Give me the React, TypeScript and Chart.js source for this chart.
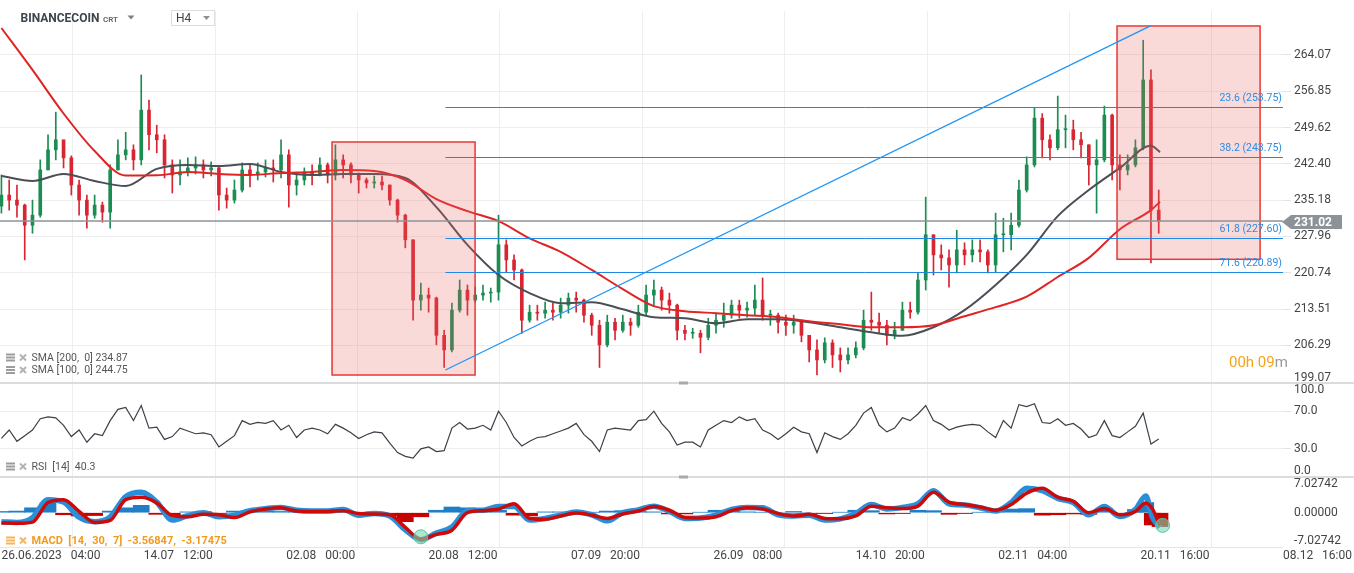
import React, { useEffect, useRef } from 'react';
import { Chart, registerables } from 'chart.js';

Chart.register(...registerables);

// ---------------- data ----------------
// candles: one candle every STEP bars of H4 data (x = bar index)
const STEP = 6;
const firstOpen = 234.0;
const closes = [
  236.2, 235.2, 234.2, 230.2, 232.2, 241.2, 245.2, 247.2, 243.6, 238.2,
  235.2, 232.2, 234.2, 232.8, 241.2, 244.2, 245.2, 243.2, 253.1, 248.2,
  247.2, 242.2, 240.2, 240.8, 241.6, 242.2, 241.2, 241.6, 236.2, 235.2,
  237.2, 241.2, 240.2, 240.8, 241.6, 241.2, 244.2, 238.2, 239.2, 240.8,
  240.2, 242.2, 240.2, 243.2, 242.2, 240.2, 239.2, 238.6, 238.8, 238.2,
  235.2, 232.2, 227.3, 215.3, 216.3, 215.7, 208.3, 205.4, 213.3, 217.3,
  215.3, 216.3, 216.7, 216.9, 226.3, 223.3, 221.3, 211.3, 212.9, 212.7,
  213.3, 212.9, 214.3, 215.7, 215.3, 212.3, 210.3, 206.4, 210.9, 209.3,
  210.9, 210.3, 212.9, 216.3, 217.3, 215.3, 214.3, 209.3, 208.7, 208.7,
  207.9, 210.3, 211.3, 212.3, 214.3, 213.3, 213.7, 215.3, 212.3, 212.3,
  210.9, 210.3, 210.9, 208.3, 205.4, 203.4, 206.8, 204.4, 203.4, 204.4,
  205.8, 211.3, 210.9, 210.3, 208.3, 209.3, 213.3, 212.9, 219.3, 228.3,
  224.3, 223.7, 222.3, 225.3, 224.3, 225.3, 224.9, 222.3, 228.3, 228.3,
  230.2, 237.2, 242.2, 251.5, 247.2, 245.6, 249.2, 249.2, 247.2, 246.2,
  242.2, 243.2, 252.1, 242.2, 241.2, 242.2, 245.6, 259.1, 233.2, 231.02,
];
const highs = [
  240.2, 239.2, 238.2, 234.4, 235.2, 243.2, 248.2, 252.7, 246.5, 244.0,
  239.2, 236.2, 236.2, 234.8, 242.2, 247.2, 248.7, 246.2, 260.1, 255.1,
  250.1, 248.2, 243.2, 243.2, 243.6, 243.8, 243.2, 242.8, 241.8, 237.6,
  239.2, 242.6, 242.2, 242.6, 243.2, 243.2, 247.2, 245.2, 240.6, 241.6,
  242.2, 243.6, 242.6, 246.2, 244.2, 242.6, 240.6, 239.6, 240.0, 240.0,
  238.2, 235.4, 232.4, 227.3, 218.7, 217.7, 215.9, 209.3, 214.7, 219.3,
  218.3, 217.9, 218.3, 217.7, 232.2, 227.3, 224.3, 221.5, 214.3, 214.3,
  214.9, 214.7, 215.7, 216.7, 216.9, 215.5, 212.7, 211.3, 212.3, 211.7,
  212.3, 211.7, 214.3, 218.3, 219.3, 217.9, 216.7, 214.5, 210.3, 209.7,
  209.3, 211.7, 212.7, 214.7, 215.3, 215.3, 214.9, 218.3, 219.7, 213.3,
  212.7, 212.3, 212.3, 211.3, 208.3, 207.4, 207.8, 207.4, 205.8, 205.8,
  207.0, 213.3, 216.9, 212.7, 211.3, 210.9, 214.9, 214.9, 220.7, 235.8,
  228.3, 226.3, 225.3, 229.2, 226.7, 227.3, 227.3, 225.3, 232.6, 231.6,
  232.6, 239.2, 243.8, 253.5, 252.4, 248.2, 255.9, 252.1, 251.1, 248.7,
  246.2, 247.2, 253.9, 252.3, 244.2, 244.2, 247.2, 267.0, 261.1, 237.2,
];
const lows = [
  232.6, 233.2, 231.8, 223.3, 228.6, 231.8, 241.2, 243.2, 241.6, 236.2,
  232.2, 229.6, 231.6, 230.8, 229.6, 241.2, 243.2, 241.2, 242.2, 245.2,
  244.6, 239.6, 236.6, 238.2, 240.0, 240.4, 239.6, 240.0, 233.2, 233.6,
  234.6, 236.8, 237.8, 239.2, 239.8, 238.8, 239.6, 233.8, 236.2, 238.2,
  238.2, 240.0, 238.6, 239.2, 239.6, 238.6, 236.6, 237.6, 237.6, 237.2,
  234.2, 230.8, 225.7, 211.3, 213.3, 212.9, 206.4, 201.9, 205.0, 212.9,
  212.3, 214.9, 215.3, 214.9, 215.3, 220.9, 219.3, 208.7, 210.9, 211.3,
  211.7, 211.3, 211.7, 212.7, 212.9, 210.9, 208.3, 201.9, 206.0, 207.4,
  208.9, 208.3, 209.9, 212.3, 214.3, 213.3, 212.7, 207.4, 207.4, 207.7,
  204.8, 207.4, 208.7, 209.9, 211.7, 211.7, 211.9, 212.3, 211.3, 210.3,
  208.7, 208.3, 208.7, 207.0, 203.0, 200.4, 202.8, 201.9, 201.0, 202.6,
  203.8, 205.4, 209.3, 208.7, 206.4, 207.6, 209.3, 211.7, 212.5, 217.3,
  220.3, 221.3, 217.9, 220.7, 222.3, 222.9, 222.9, 220.7, 220.9, 224.9,
  225.3, 229.8, 236.8, 241.8, 243.6, 243.2, 245.2, 245.6, 245.2, 243.6,
  238.2, 232.6, 242.8, 239.2, 237.2, 240.2, 241.8, 245.2, 222.7, 228.6,
];
const rsiValues = [
  41, 50, 38, 44, 50, 62, 64, 63, 55, 43,
  50, 37, 46, 44, 60, 72, 74, 60, 76, 52,
  53, 40, 43, 52, 49, 46, 47, 45, 32, 38,
  44, 60, 56, 58, 57, 60, 50, 55, 42, 50,
  52, 50, 46, 56, 52, 47, 41, 45, 48, 47,
  36, 26, 22, 20, 30, 32, 27, 28, 52, 58,
  51, 52, 55, 50, 70, 58, 42, 33, 38, 42,
  43, 46, 49, 52, 57, 45, 38, 27, 50, 52,
  51, 50, 60, 61, 70, 57, 48, 34, 37, 37,
  32, 50, 55, 60, 58, 64, 60, 62, 50, 46,
  40, 46, 53, 48, 46, 26, 47, 43, 40, 46,
  55, 68, 74, 55, 48, 52, 63, 60, 67, 76,
  60, 56, 50, 53, 55, 56, 55, 48, 42, 60,
  52, 77, 75, 78, 58, 57, 62, 55, 57, 51,
  42, 45, 60, 44, 42, 48, 54, 68, 35, 40.3,
];
// moving averages, one point every 24 bars, last point = last bar
const smaIdx = [...Array.from({ length: 38 }, (_, j) => j * 24), 895];
const sma200 = [
  269.44, 261.09, 252.43, 244.97, 240.09, 240.13, 240.8, 240.4, 240.2, 240.6,
  240.8, 241.2, 241.0, 239.2, 235.4, 233.0, 231.0, 227.6, 224.9, 221.3,
  217.5, 214.1, 213.1, 212.7, 212.3, 211.9, 211.1, 210.5, 209.9, 209.9,
  210.3, 212.1, 213.9, 216.0, 219.9, 223.7, 229.4, 233.2, 234.87,
];
const sma100 = [
  240.0, 239.0, 240.4, 239.0, 238.0, 241.4, 242.2, 242.0, 242.4, 240.8,
  240.2, 240.4, 240.4, 239.6, 233.8, 226.3, 220.3, 216.7, 214.7, 214.9,
  213.5, 211.9, 211.7, 210.7, 211.5, 211.5, 210.9, 209.9, 208.9, 208.2,
  209.9, 213.3, 218.3, 224.3, 232.0, 237.2, 241.6, 246.0, 244.75,
];
// MACD
const macdIdx = [...Array.from({ length: 74 }, (_, m) => m * 12), 884, 889, 895];
const macdLine = [
  -2.2, -2.4, -1.2, 3.2, 2.6, -1.1, -2.2, -1.0, 3.9, 5.0,
  2.6, -1.8, -0.7, 0.0, -1.0, -0.6, 0.5, 1.0, 1.3, 0.6,
  0.4, 0.4, 0.8, -0.6, -0.2, -0.8, -4.2, -6.6, -5.0, -3.5,
  0.5, 0.6, 1.5, 1.5, -1.8, -1.4, -0.6, 0.2, -0.5, -2.0,
  0.0, 0.7, 1.6, 0.3, -1.4, -1.3, -0.6, 0.8, 1.3, 1.2,
  -0.5, -0.8, -0.6, -1.8, -1.5, -0.2, 2.0, 0.9, 1.3, 2.2,
  5.4, 2.2, 1.9, 1.2, 0.4, 2.5, 6.0, 5.4, 3.5, 2.5,
  -0.5, 1.5, -0.9, 0.8, 4.1, -1.0, -3.56847,
];
const signalLine = [
  -2.5, -2.6, -2.3, 2.5, 3.2, 0.3, -2.4, -1.9, 3.2, 3.8,
  2.4, -0.7, -1.0, -0.4, -0.5, -1.2, 0.2, 0.9, 1.2, 0.4,
  0.3, 0.3, 0.5, -0.2, -0.3, -0.5, -3.6, -6.5, -5.3, -4.3,
  0.0, 0.5, 0.9, 2.2, -1.4, -1.6, -0.8, -0.1, -0.6, -1.4,
  -0.3, 0.4, 1.5, 0.6, -1.2, -1.3, -1.0, 0.5, 1.2, 0.9,
  -0.2, -0.8, -0.4, -1.4, -1.5, -0.8, 1.6, 1.2, 1.0, 1.6,
  5.0, 2.6, 2.0, 1.4, 0.6, 2.0, 4.8, 6.0, 3.8, 2.8,
  0.0, 1.0, -0.5, 0.3, 2.4, 1.0, -3.17475,
];
const histogram = [
  0.3, 0.4, 1.2, 2.4, -0.5, -0.8, -0.7, 0.4, 1.2, 1.8,
  -0.4, -0.5, 0.2, 0.3, -0.2, 0.4, 0.5, 0.4, 0.3, 0.4,
  0.3, 0.2, 0.4, -0.3, 0.2, -0.8, -2.2, -1.0, 0.6, 1.4,
  1.2, 0.3, 0.6, -0.6, -0.8, 0.2, 0.2, 0.3, 0.1, 0.4,
  0.5, 0.3, 0.2, -0.3, -0.3, 0.1, 0.6, 0.5, 0.2, 0.1,
  -0.2, 0.3, -0.2, -0.2, 0.1, 0.6, 0.5, -0.3, -0.2, 0.6,
  0.5, -0.4, -0.2, 0.1, 0.6, 0.9, 1.0, -0.6, -0.5, -0.3,
  -0.4, 1.1, -0.3, 0.8, 2.5, -3.0, -3.4,
];
const crossIdx = [324, 897];
const crossVal = [-5.9, -3.1];
// axes
const xTickIdx = [0, 110, 220, 330, 440, 550, 660, 770, 880, 990];
const xTickLabels = [
  '26.06.2023   04:00', '14.07   12:00', '02.08   00:00', '20.08   12:00', '07.09   20:00',
  '26.09   08:00', '14.10   20:00', '02.11   04:00', '20.11   16:00', '08.12   16:00',
];
const priceTickLabels = ['199.07', '206.29', '213.51', '220.74', '227.96', '235.18', '242.40', '249.62', '256.85', '264.07'];
const priceTickPos = [199.9, 206.29, 213.51, 220.74, 227.96, 235.18, 242.40, 249.62, 256.85, 264.07];
const rsiTickPos = [6.4, 30, 70, 92.6];
const rsiTickLabels = ['0.0', '30.0', '70.0', '100.0'];
const macdTicks = [-7.02742, 0, 7.02742];
// drawings
const fibLevels = [23.6, 38.2, 61.8, 71.6];
const fibPrices = [253.75, 243.75, 227.6, 220.89];
const fibStartIdx = 343;
const trendIdx = [343, 888];
const trendPrice = [201.4, 269.9];
const zoneStart = [255.4, 861.8];
const zoneEnd = [365.9, 972.3];
const zoneTop = [246.76, 269.84];
const zoneBottom = [200.4, 223.42];
const lastPrice = 231.02;

const UP = '#1b8c52';
const DOWN = '#d92532';
const FONT = 'Roboto';

function seg(ctx: any, x0: number, y0: number, x1: number, y1: number) {
  ctx.beginPath();
  ctx.moveTo(x0, y0);
  ctx.lineTo(x1, y1);
  ctx.stroke();
}

function legendIcons(ctx: any, y: number, color: string, xColor: string) {
  ctx.fillStyle = color;
  ctx.fillRect(6, y - 4, 9, 2);
  ctx.fillRect(6, y - 1, 9, 2);
  ctx.fillRect(6, y + 2, 9, 2);
  ctx.strokeStyle = xColor;
  ctx.lineWidth = 2;
  seg(ctx, 20, y - 3, 26, y + 3);
  seg(ctx, 26, y - 3, 20, y + 3);
}

function tri(ctx: any, x: number, y: number, color: string) {
  ctx.fillStyle = color;
  ctx.beginPath();
  ctx.moveTo(x, y);
  ctx.lineTo(x + 7, y);
  ctx.lineTo(x + 3.5, y + 4);
  ctx.closePath();
  ctx.fill();
}

const overlay = {
  id: 'overlay',
  afterDatasetsDraw(chart: any) {
    const { ctx, chartArea: ca, scales } = chart;
    const xs = scales.x;
    const ys = scales.y;
    ctx.save();
    ctx.beginPath();
    ctx.rect(ca.left, ys.top, ca.right - ca.left, ys.bottom - ys.top);
    ctx.clip();
    // zones
    for (let i = 0; i < zoneStart.length; i++) {
      const x0 = xs.getPixelForValue(zoneStart[i]);
      const x1 = xs.getPixelForValue(zoneEnd[i]);
      const y0 = ys.getPixelForValue(zoneTop[i]);
      const y1 = ys.getPixelForValue(zoneBottom[i]);
      ctx.fillStyle = 'rgba(236, 96, 96, 0.24)';
      ctx.fillRect(x0, y0, x1 - x0, y1 - y0);
      ctx.strokeStyle = '#e53935';
      ctx.lineWidth = 1.5;
      ctx.strokeRect(x0, y0, x1 - x0, y1 - y0);
    }
    // last price line
    const py = ys.getPixelForValue(lastPrice);
    ctx.strokeStyle = '#8c9398';
    ctx.lineWidth = 1.5;
    seg(ctx, ca.left, py, ca.right, py);
    // fibonacci
    ctx.font = `10.5px ${FONT}`;
    ctx.textAlign = 'right';
    ctx.textBaseline = 'middle';
    for (let i = 0; i < fibPrices.length; i++) {
      const fy = Math.round(ys.getPixelForValue(fibPrices[i])) + 0.5;
      ctx.strokeStyle = '#1e88e5';
      ctx.lineWidth = 1;
      seg(ctx, xs.getPixelForValue(fibStartIdx), fy, ca.right, fy);
      ctx.fillStyle = '#2b8de3';
      ctx.fillText(`${fibLevels[i].toFixed(1)} (${fibPrices[i].toFixed(2)})`, ca.right - 1, fy - 9);
    }
    // trend line
    ctx.strokeStyle = '#2196f3';
    ctx.lineWidth = 1.3;
    seg(
      ctx,
      xs.getPixelForValue(trendIdx[0]), ys.getPixelForValue(trendPrice[0]),
      xs.getPixelForValue(trendIdx[1]), ys.getPixelForValue(trendPrice[1]),
    );
    ctx.restore();
  },
  afterDraw(chart: any) {
    const { ctx, chartArea: ca, scales, width } = chart;
    const ys = scales.y;
    ctx.save();
    // pane separators
    for (const sc of [scales.rsi, scales.macd]) {
      ctx.fillStyle = '#dcdcdc';
      ctx.fillRect(0, sc.top - 1, width, 2);
      ctx.fillStyle = '#a9a9a9';
      ctx.fillRect(679, sc.top - 1.5, 9, 3);
    }
    ctx.fillStyle = '#e6e6e6';
    ctx.fillRect(0, ca.bottom - 1, ca.right, 1);
    // price tag
    const ty = ys.getPixelForValue(lastPrice) + 1;
    ctx.fillStyle = '#8c9398';
    ctx.beginPath();
    ctx.moveTo(1282, ty);
    ctx.lineTo(1291, ty - 7);
    ctx.lineTo(1342, ty - 7);
    ctx.lineTo(1342, ty + 7);
    ctx.lineTo(1291, ty + 7);
    ctx.closePath();
    ctx.fill();
    ctx.fillStyle = '#ffffff';
    ctx.font = `bold 12px ${FONT}`;
    ctx.textAlign = 'left';
    ctx.textBaseline = 'middle';
    ctx.fillText(lastPrice.toFixed(2), 1294, ty + 0.5);
    // title
    ctx.fillStyle = '#3b4550';
    ctx.font = `bold 12px ${FONT}`;
    ctx.fillText('BINANCECOIN', 20.5, 18.5);
    ctx.fillStyle = '#666';
    ctx.font = `600 8px ${FONT}`;
    ctx.fillText('CRT', 103, 19.5);
    tri(ctx, 127.5, 15.5, '#808080');
    ctx.fillStyle = '#ffffff';
    ctx.fillRect(171.5, 10.5, 43, 15);
    ctx.strokeStyle = '#dddddd';
    ctx.lineWidth = 1;
    ctx.strokeRect(171.5, 10.5, 43, 15);
    ctx.fillStyle = '#444';
    ctx.font = `12px ${FONT}`;
    ctx.fillText('H4', 176, 18.5);
    tri(ctx, 203, 16, '#909090');
    // legends
    ctx.font = `10.5px ${FONT}`;
    legendIcons(ctx, 357.5, '#9c9c9c', '#b3b3b3');
    legendIcons(ctx, 370, '#9c9c9c', '#b3b3b3');
    ctx.fillStyle = '#555';
    ctx.fillText(`SMA [200,  0] ${sma200[sma200.length - 1].toFixed(2)}`, 31.5, 358);
    ctx.fillText(`SMA [100,  0] ${sma100[sma100.length - 1].toFixed(2)}`, 31.5, 370.5);
    legendIcons(ctx, 466.5, '#9c9c9c', '#b3b3b3');
    ctx.fillStyle = '#555';
    ctx.fillText(`RSI  [14]  ${rsiValues[rsiValues.length - 1].toFixed(1)}`, 31.5, 467);
    legendIcons(ctx, 540.5, '#f6b55a', '#f6b55a');
    ctx.fillStyle = '#f39a1b';
    ctx.font = `bold 11px ${FONT}`;
    ctx.fillText(
      `MACD  [14,  30,  7]  ${macdLine[macdLine.length - 1].toFixed(5)},  ${signalLine[signalLine.length - 1].toFixed(5)}`,
      31.5, 541,
    );
    // countdown
    ctx.font = `15px ${FONT}`;
    ctx.fillStyle = '#f5a31a';
    ctx.fillText('00h 09', 1229, 363);
    const w = ctx.measureText('00h 09').width;
    ctx.fillStyle = '#9a9a9a';
    ctx.fillText('m', 1229 + w, 363);
    ctx.restore();
  },
};

export default function App() {
  const ref = useRef<HTMLCanvasElement>(null);
  useEffect(() => {
    document.body.style.margin = '0';
    const canvas = ref.current;
    if (!canvas) return;
    const opens = closes.map((c, i) => (i === 0 ? firstOpen : closes[i - 1]));
    const candleX = closes.map((_, i) => i * STEP);
    const candleColors = closes.map((c, i) => (c >= opens[i] ? UP : DOWN));
    const tickFont = { family: FONT, size: 12 };
    const chart = new Chart(canvas, {
      type: 'bar',
      data: {
        datasets: [
          {
            type: 'line', label: 'SMA200', yAxisID: 'y', order: 1,
            data: smaIdx.map((x, i) => ({ x, y: sma200[i] })),
            borderColor: '#e02424', borderWidth: 2, pointRadius: 0, cubicInterpolationMode: 'monotone',
          },
          {
            type: 'line', label: 'SMA100', yAxisID: 'y', order: 2,
            data: smaIdx.map((x, i) => ({ x, y: sma100[i] })),
            borderColor: '#4a4f55', borderWidth: 2, pointRadius: 0, cubicInterpolationMode: 'monotone',
          },
          {
            type: 'bar', label: 'bodies', yAxisID: 'y', order: 3, grouped: false,
            data: candleX.map((x, i) => ({ x, y: [opens[i], closes[i]] })),
            backgroundColor: candleColors, borderWidth: 0, barThickness: 3, minBarLength: 1,
          },
          {
            type: 'bar', label: 'wicks', yAxisID: 'y', order: 4, grouped: false,
            data: candleX.map((x, i) => ({ x, y: [lows[i], highs[i]] })),
            backgroundColor: candleColors, borderWidth: 0, barThickness: 1,
          },
          {
            type: 'line', label: 'RSI', yAxisID: 'rsi', order: 5,
            data: candleX.map((x, i) => ({ x, y: rsiValues[i] })),
            borderColor: '#3b4148', borderWidth: 1.2, pointRadius: 0,
          },
          {
            type: 'scatter', label: 'cross', yAxisID: 'macd', order: 0,
            data: crossIdx.map((x, i) => ({ x, y: crossVal[i] })),
            backgroundColor: 'rgba(120, 215, 175, 0.6)', borderColor: '#55c49b', borderWidth: 1, pointRadius: 7,
          },
          {
            type: 'line', label: 'signal', yAxisID: 'macd', order: 6,
            data: macdIdx.map((x, i) => ({ x, y: signalLine[i] })),
            borderColor: '#cc0a0a', borderWidth: 3.5, pointRadius: 0, cubicInterpolationMode: 'monotone',
          },
          {
            type: 'line', label: 'macd', yAxisID: 'macd', order: 7,
            data: macdIdx.map((x, i) => ({ x, y: macdLine[i] })),
            borderColor: '#2a8fd9', borderWidth: 5.5, pointRadius: 0, cubicInterpolationMode: 'monotone',
          },
          {
            type: 'bar', label: 'hist', yAxisID: 'macd', order: 8, grouped: false,
            data: macdIdx.map((x, i) => ({ x, y: histogram[i] })),
            backgroundColor: histogram.map((v) => (v >= 0 ? '#1f7ec8' : '#c80000')),
            borderWidth: 0, barThickness: 16,
          },
        ] as any,
      },
      options: {
        animation: false,
        responsive: false,
        devicePixelRatio: 1,
        events: [],
        layout: { autoPadding: false, padding: { top: 11, left: 0, right: 0, bottom: 0 } },
        plugins: { legend: { display: false }, tooltip: { enabled: false } },
        scales: {
          x: {
            type: 'linear', min: -1.1, max: 990, offset: false,
            grid: { color: '#eeeeee', drawTicks: false },
            border: { display: false },
            ticks: {
              autoSkip: false, maxRotation: 0, minRotation: 0, align: 'start', padding: 1,
              color: '#444', font: tickFont,
              callback: (_v: any, i: number) => xTickLabels[i] ?? '',
            },
            afterBuildTicks: (s: any) => { s.ticks = xTickIdx.map((v) => ({ value: v })); },
            afterFit: (s: any) => { s.height = 25; s.paddingLeft = 0; s.paddingRight = 0; },
          },
          y: {
            type: 'linear', position: 'right', stack: 'panes', stackWeight: 372, weight: 1,
            min: 198.81, max: 272.82,
            grid: {
              color: (c: any) => (c.index === 0 ? 'rgba(0,0,0,0)' : '#eeeeee'),
              tickColor: (c: any) => (c.index === 0 ? 'rgba(0,0,0,0)' : '#e4e4e4'),
              tickLength: 8,
            },
            border: { display: false },
            ticks: {
              autoSkip: false, padding: 3, color: '#444', font: tickFont,
              callback: (_v: any, i: number) => priceTickLabels[i],
            },
            afterBuildTicks: (s: any) => { s.ticks = priceTickPos.map((v) => ({ value: v })); },
            afterFit: (s: any) => { s.width = 71; s.paddingTop = 0; s.paddingBottom = 0; },
          },
          rsi: {
            type: 'linear', position: 'right', stack: 'panes', stackWeight: 94, weight: 2,
            min: 0, max: 100,
            grid: {
              color: (c: any) => (c.tick && (c.tick.value === 70 || c.tick.value === 30) ? '#eeeeee' : 'rgba(0,0,0,0)'),
              tickColor: (c: any) => (c.tick && (c.tick.value === 70 || c.tick.value === 30) ? '#e4e4e4' : 'rgba(0,0,0,0)'),
              tickLength: 8,
            },
            border: { display: false },
            ticks: {
              autoSkip: false, padding: 3, color: '#444', font: tickFont,
              callback: (_v: any, i: number) => rsiTickLabels[i],
            },
            afterBuildTicks: (s: any) => { s.ticks = rsiTickPos.map((v) => ({ value: v })); },
            afterFit: (s: any) => { s.width = 71; s.paddingTop = 0; s.paddingBottom = 0; },
          },
          macd: {
            type: 'linear', position: 'right', stack: 'panes', stackWeight: 71, weight: 3,
            min: -8.64, max: 8.74,
            grid: { color: 'rgba(0,0,0,0)', drawTicks: false },
            border: { display: false },
            ticks: {
              autoSkip: false, padding: 11, color: '#444', font: tickFont,
              callback: (v: any) => Number(v).toFixed(5),
            },
            afterBuildTicks: (s: any) => { s.ticks = macdTicks.map((v) => ({ value: v })); },
            afterFit: (s: any) => { s.width = 71; s.paddingTop = 0; s.paddingBottom = 0; },
          },
        },
      } as any,
      plugins: [overlay],
    });
    return () => chart.destroy();
  }, []);
  return (
    <div style={{ position: 'relative', width: 1354, height: 573 }}>
      <canvas ref={ref} width={1354} height={573} style={{ display: 'block', width: 1354, height: 573 }} />
    </div>
  );
}
